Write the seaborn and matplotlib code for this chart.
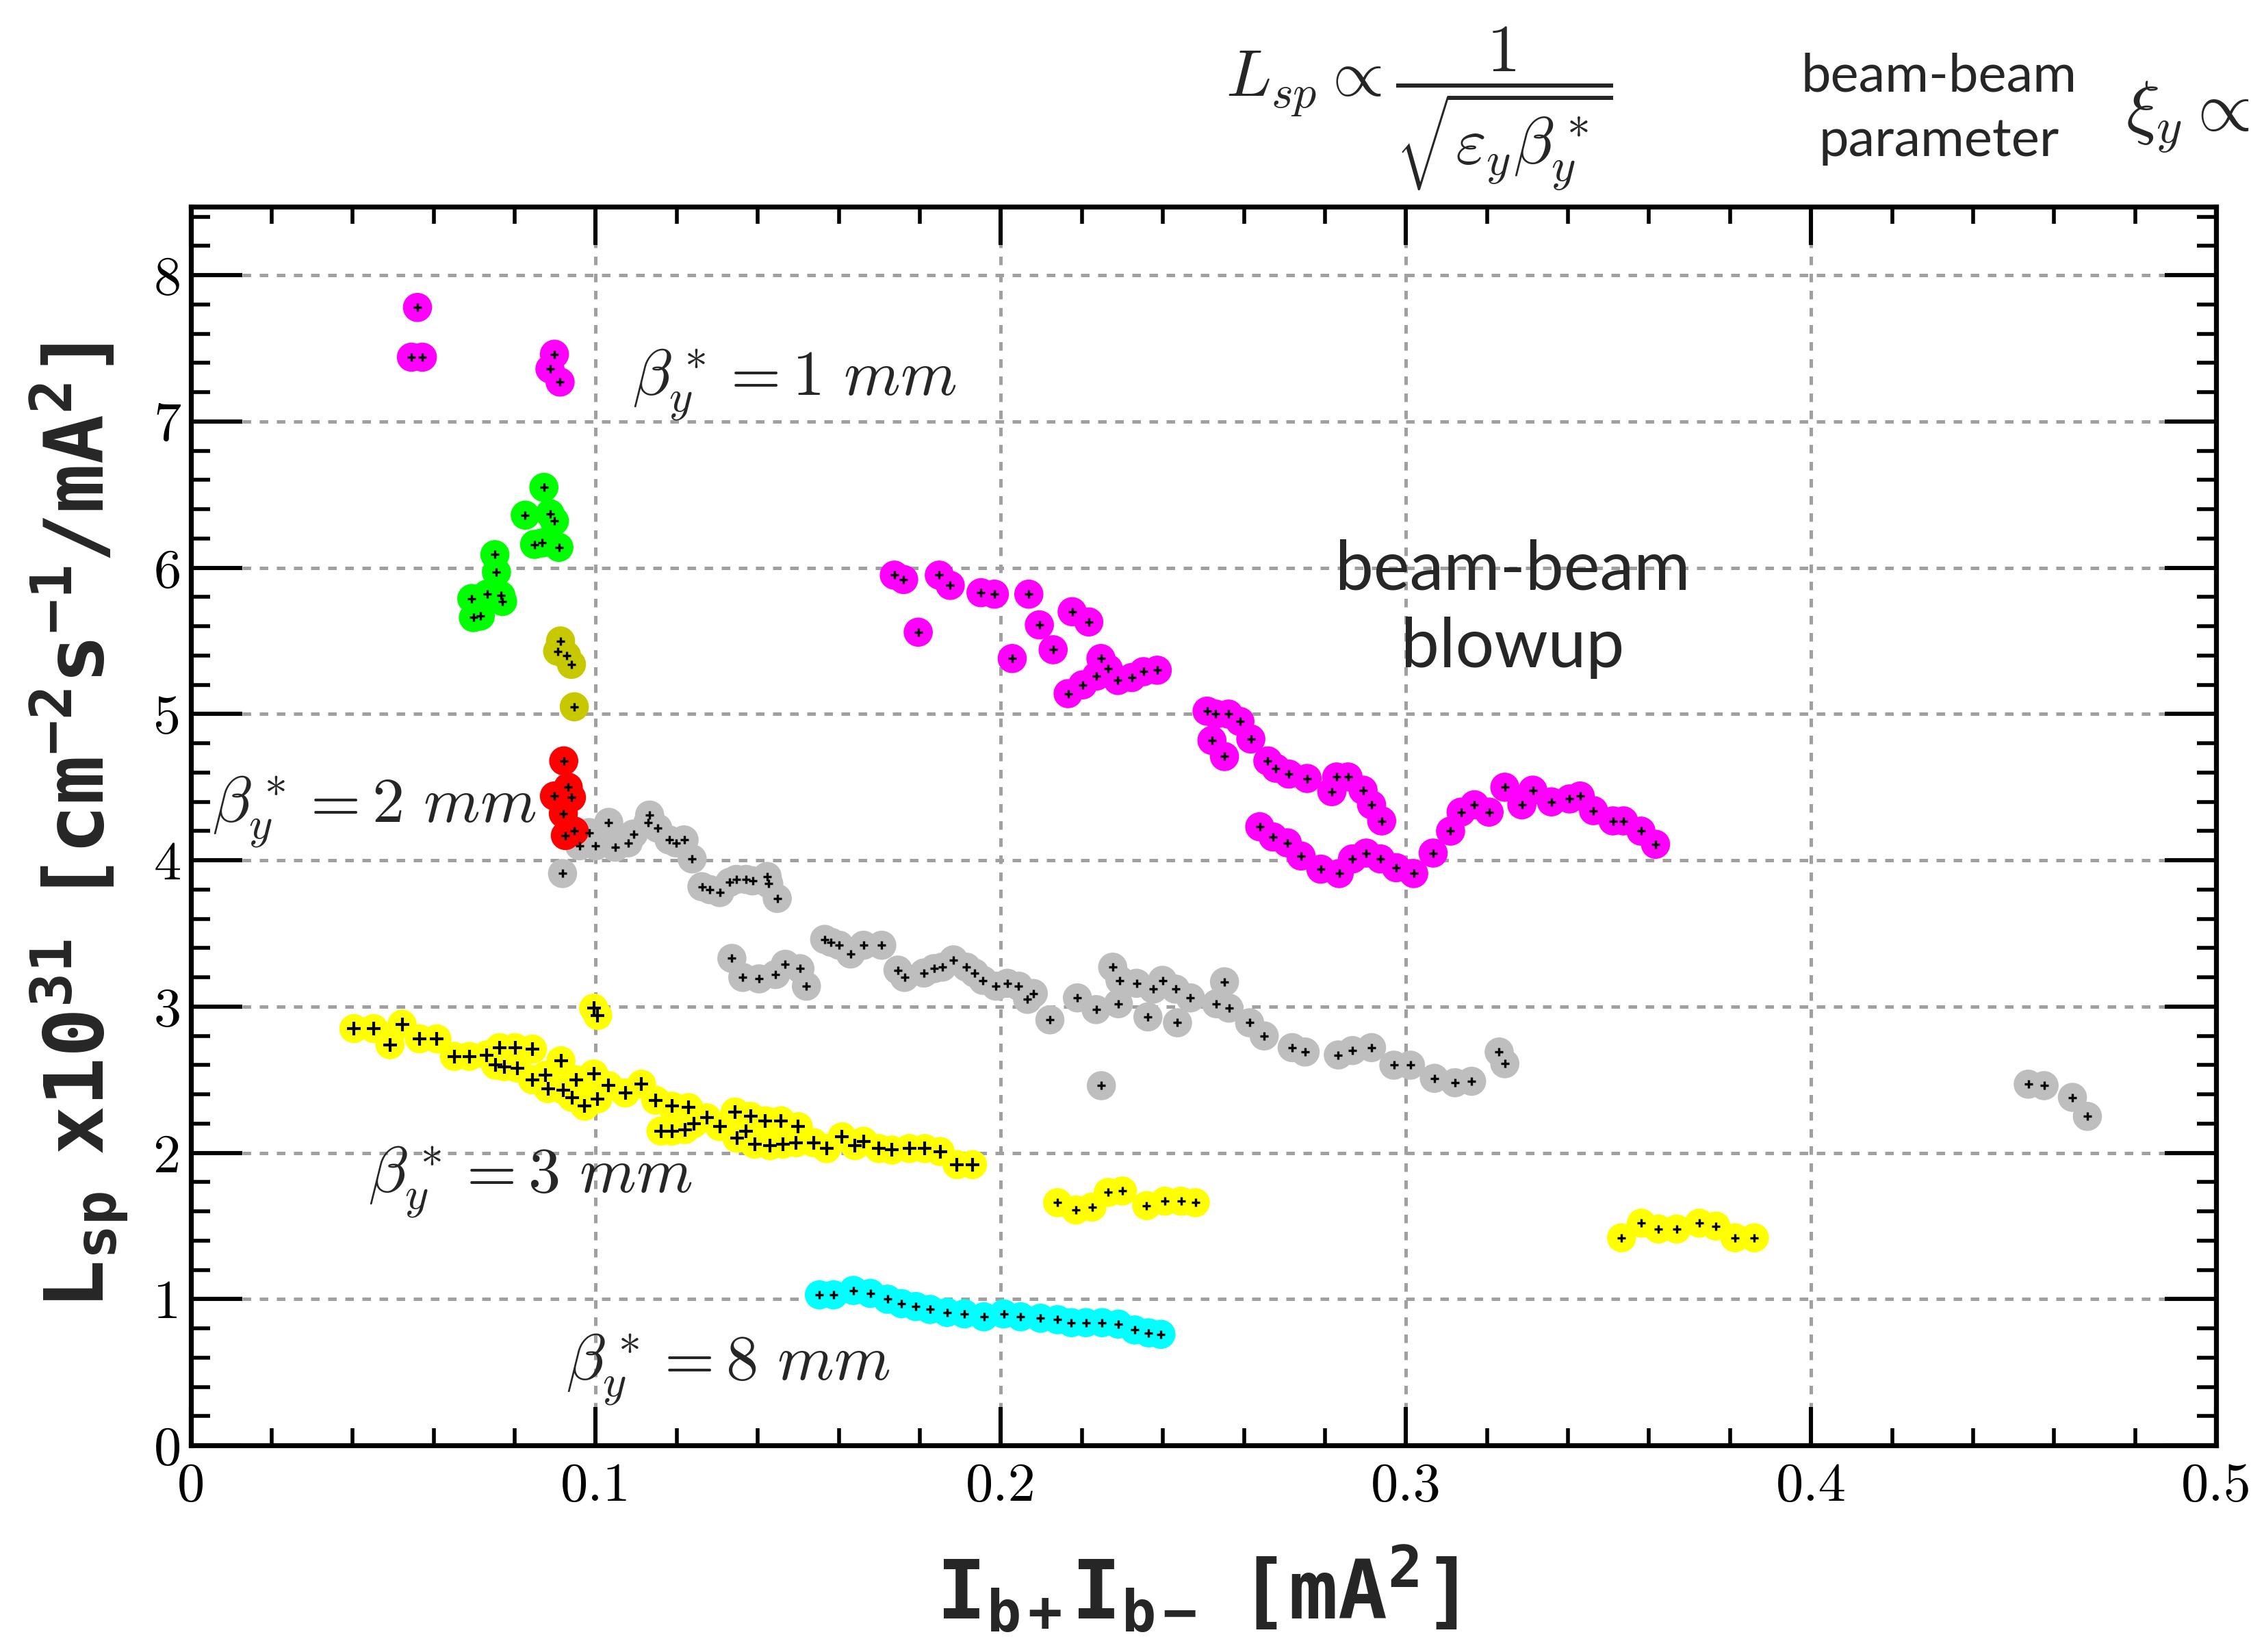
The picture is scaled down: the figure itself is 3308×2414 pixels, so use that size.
import numpy as np
import pandas as pd
import matplotlib
matplotlib.use("Agg")
import matplotlib.pyplot as plt
import seaborn as sns
from matplotlib.ticker import MultipleLocator, FuncFormatter

# ---------------- data ----------------
mag_x = [0.0560, 0.0545, 0.0572, 0.0898, 0.0887, 0.0912,
         0.1737, 0.1760, 0.1848, 0.1875, 0.1796, 0.1951, 0.1984, 0.2069, 0.2028, 0.2095, 0.2129, 0.2176, 0.2217,
         0.2166, 0.2202, 0.2236, 0.2247, 0.2265, 0.2289, 0.2323, 0.2352, 0.2386,
         0.2509, 0.2530, 0.2562, 0.2590, 0.2617, 0.2521, 0.2552,
         0.2659, 0.2679, 0.2711, 0.2756, 0.2817, 0.2829, 0.2857, 0.2894, 0.2915, 0.2940,
         0.2639, 0.2672, 0.2707, 0.2741, 0.2790, 0.2835, 0.2868, 0.2902, 0.2937, 0.2976,
         0.3019, 0.3067, 0.3110, 0.3136, 0.3169, 0.3205, 0.3244, 0.3286, 0.3313, 0.3359,
         0.3404, 0.3430, 0.3463, 0.3511, 0.3537, 0.3580, 0.3616]
mag_y = [7.78, 7.44, 7.44, 7.46, 7.36, 7.27,
         5.95, 5.92, 5.95, 5.88, 5.56, 5.83, 5.82, 5.82, 5.38, 5.61, 5.44, 5.70, 5.63,
         5.14, 5.20, 5.26, 5.38, 5.31, 5.23, 5.25, 5.29, 5.30,
         5.02, 5.00, 5.00, 4.95, 4.83, 4.82, 4.71,
         4.68, 4.63, 4.59, 4.56, 4.47, 4.57, 4.57, 4.48, 4.38, 4.27,
         4.23, 4.16, 4.12, 4.03, 3.94, 3.91, 4.01, 4.05, 4.01, 3.95,
         3.91, 4.05, 4.20, 4.33, 4.38, 4.33, 4.50, 4.38, 4.48, 4.40,
         4.42, 4.44, 4.34, 4.27, 4.27, 4.20, 4.11]

green_x = [0.0872, 0.0826, 0.0887, 0.0898, 0.0849, 0.0868, 0.0909, 0.0751,
           0.0755, 0.0732, 0.0766, 0.0770, 0.0694, 0.0698, 0.0715]
green_y = [6.55, 6.36, 6.37, 6.32, 6.16, 6.17, 6.14, 6.09,
           5.97, 5.82, 5.81, 5.77, 5.79, 5.66, 5.67]

olive_x = [0.0913, 0.0906, 0.0928, 0.0940, 0.0947]
olive_y = [5.50, 5.43, 5.40, 5.34, 5.05]

red_x = [0.0921, 0.0898, 0.0932, 0.0940, 0.0920, 0.0947, 0.0925]
red_y = [4.68, 4.44, 4.50, 4.43, 4.32, 4.20, 4.17]

gray_x = [0.0918, 0.0984, 0.0960, 0.1000, 0.1032, 0.1048, 0.1080, 0.1093, 0.1133, 0.1129,
          0.1153, 0.1181, 0.1198, 0.1218, 0.1238,
          0.1262, 0.1282, 0.1306, 0.1331, 0.1347, 0.1371, 0.1387, 0.1423, 0.1427, 0.1448,
          0.1336, 0.1363, 0.1403, 0.1444, 0.1468, 0.1504, 0.1520,
          0.1565, 0.1581, 0.1601, 0.1629, 0.1661, 0.1706,
          0.1746, 0.1762, 0.1810, 0.1835, 0.1855, 0.1883, 0.1915, 0.1935, 0.1956, 0.1988, 0.2016, 0.2044,
          0.2080, 0.2066, 0.2121, 0.2189, 0.2235, 0.2276, 0.2294, 0.2335, 0.2290, 0.2376,
          0.2399, 0.2431, 0.2468, 0.2363, 0.2436, 0.2532, 0.2552, 0.2563, 0.2614, 0.2650,
          0.2719, 0.2751, 0.2833, 0.2868, 0.2915, 0.2970, 0.3011, 0.3070, 0.3121, 0.3162,
          0.3230, 0.3244, 0.2248,
          0.4536, 0.4575, 0.4645, 0.4682]
gray_y = [3.91, 4.19, 4.10, 4.10, 4.26, 4.09, 4.12, 4.18, 4.31, 4.26,
          4.22, 4.14, 4.12, 4.14, 4.01,
          3.82, 3.80, 3.78, 3.85, 3.87, 3.87, 3.86, 3.89, 3.84, 3.74,
          3.33, 3.20, 3.19, 3.22, 3.29, 3.26, 3.14,
          3.46, 3.44, 3.42, 3.36, 3.42, 3.42,
          3.25, 3.20, 3.23, 3.26, 3.27, 3.32, 3.27, 3.23, 3.18, 3.14, 3.16, 3.14,
          3.09, 3.05, 2.91, 3.06, 2.98, 3.27, 3.18, 3.16, 3.02, 3.12,
          3.18, 3.12, 3.06, 2.93, 2.89, 3.02, 3.17, 2.99, 2.89, 2.80,
          2.72, 2.69, 2.67, 2.70, 2.72, 2.60, 2.60, 2.51, 2.48, 2.49,
          2.69, 2.61, 2.46,
          2.47, 2.46, 2.38, 2.25]

yel_x = [0.0403, 0.0452, 0.0522, 0.0492, 0.0565, 0.0608,
         0.0651, 0.0688, 0.0731, 0.0763, 0.0801, 0.0844, 0.0753, 0.0774, 0.0806,
         0.0844, 0.0876, 0.0914, 0.0882, 0.0920, 0.0952, 0.0995, 0.0941, 0.0973, 0.1005,
         0.1032, 0.1073, 0.1113, 0.1148, 0.1188, 0.1229,
         0.1161, 0.1188, 0.1220, 0.1242, 0.1274, 0.1306, 0.1344, 0.1382, 0.1419, 0.1457, 0.1500, 0.1371, 0.1349,
         0.1392, 0.1430, 0.1462, 0.1495, 0.1538, 0.1570, 0.1608, 0.1640, 0.1661,
         0.1699, 0.1731, 0.1774, 0.1812, 0.1850, 0.1892, 0.1930,
         0.0995, 0.1005]
yel_y = [2.85, 2.85, 2.88, 2.74, 2.78, 2.78,
         2.66, 2.66, 2.67, 2.72, 2.72, 2.71, 2.60, 2.59, 2.58,
         2.50, 2.53, 2.63, 2.44, 2.43, 2.50, 2.54, 2.38, 2.32, 2.37,
         2.46, 2.41, 2.47, 2.36, 2.32, 2.31,
         2.15, 2.15, 2.16, 2.20, 2.24, 2.18, 2.28, 2.25, 2.22, 2.22, 2.18, 2.15, 2.10,
         2.06, 2.05, 2.06, 2.07, 2.07, 2.03, 2.11, 2.05, 2.08,
         2.03, 2.02, 2.03, 2.03, 2.01, 1.92, 1.92,
         2.99, 2.94]

yel_mid_x = [0.2140, 0.2185, 0.2225, 0.2265, 0.2300, 0.2360, 0.2405, 0.2445, 0.2480]
yel_mid_y = [1.66, 1.61, 1.63, 1.73, 1.74, 1.64, 1.67, 1.67, 1.66]

yel_right_x = [0.3532, 0.3581, 0.3623, 0.3668, 0.3724, 0.3765, 0.3812, 0.3860]
yel_right_y = [1.42, 1.52, 1.48, 1.48, 1.52, 1.50, 1.42, 1.42]

cyan_x = [0.1552, 0.1587, 0.1636, 0.1678, 0.1720, 0.1755, 0.1790, 0.1825, 0.1867, 0.1910, 0.1958,
          0.2007, 0.2049, 0.2098, 0.2140, 0.2174, 0.2210, 0.2250, 0.2290, 0.2330, 0.2365, 0.2395]
cyan_y = [1.03, 1.03, 1.06, 1.04, 1.00, 0.97, 0.95, 0.93, 0.91, 0.90, 0.88,
          0.90, 0.88, 0.87, 0.86, 0.84, 0.84, 0.84, 0.83, 0.79, 0.77, 0.76]

x_ticks = [0, 0.1, 0.2, 0.3, 0.4, 0.5]
y_ticks = [0, 1, 2, 3, 4, 5, 6, 7, 8]

series_colors = {"gray": "#bebebe", "magenta": "#ff00ff", "green": "#00ff00",
                 "olive": "#c8c800", "red": "#ff0000", "yellow": "#ffff00", "cyan": "#00ffff"}

parts = [("gray", gray_x, gray_y), ("magenta", mag_x, mag_y), ("green", green_x, green_y),
         ("olive", olive_x, olive_y), ("red", red_x, red_y), ("yellow", yel_x, yel_y),
         ("yellow", yel_mid_x, yel_mid_y), ("yellow", yel_right_x, yel_right_y),
         ("cyan", cyan_x, cyan_y)]
df = pd.concat([pd.DataFrame({"x": xs, "y": ys, "series": n}) for n, xs, ys in parts],
               ignore_index=True)
df["big"] = False
df.loc[df["series"] == "yellow", "big"] = True
df.loc[(df["series"] == "yellow") & (df["y"] < 1.8), "big"] = False

# ---------------- style ----------------
sns.set_style("ticks")
plt.rcParams["font.family"] = ["DejaVu Sans"]
plt.rcParams["mathtext.fontset"] = "custom"
for k in ["rm", "it", "bf", "sf", "tt", "cal"]:
    plt.rcParams["mathtext." + k] = "DejaVu Sans Mono:bold"

fig = plt.figure(figsize=(16.54, 12.07), dpi=200)
ax = fig.add_axes([0.0842, 0.125, 0.8947, 0.750])

sns.scatterplot(data=df, x="x", y="y", hue="series", palette=series_colors, s=235,
                linewidth=0, legend=False, ax=ax, zorder=3)
sns.scatterplot(data=df[~df["big"]], x="x", y="y", color="black", marker="+", s=16,
                linewidth=1.2, legend=False, ax=ax, zorder=4)
sns.scatterplot(data=df[df["big"]], x="x", y="y", color="black", marker="+", s=55,
                linewidth=1.5, legend=False, ax=ax, zorder=4)

ax.set_xlim(0, 0.5)
ax.set_ylim(0, 8.47)
ax.set_xticks(x_ticks)
ax.set_yticks(y_ticks)
ax.xaxis.set_minor_locator(MultipleLocator(0.02))
ax.yaxis.set_minor_locator(MultipleLocator(0.2))
ax.xaxis.set_major_formatter(FuncFormatter(lambda v, p: "0" if abs(v) < 1e-9 else f"{v:g}"))
ax.yaxis.set_major_formatter(FuncFormatter(lambda v, p: f"{v:g}"))
ax.tick_params(which="both", direction="in", top=True, right=True, colors="black")
ax.tick_params(axis="y", which="major", length=27, width=2.2, pad=5)
ax.tick_params(axis="y", which="minor", length=10, width=2.0)
ax.tick_params(axis="x", which="major", length=20, width=2.2, pad=9)
ax.tick_params(axis="x", which="minor", length=9, width=2.0)
for lab in ax.get_xticklabels() + ax.get_yticklabels():
    lab.set_fontfamily("cmr10")
    lab.set_fontsize(29)
for sp in ax.spines.values():
    sp.set_linewidth(2.6)
    sp.set_color("black")
ax.grid(True, which="major", color="#a0a0a0", linestyle=(0, (2.5, 2.5)), linewidth=1.8, zorder=0)
ax.set_axisbelow(True)

ax.set_xlabel(r"$\mathrm{I_{b+}I_{b-}\ \ [mA^{2}]}$", fontsize=43, math_fontfamily="custom")
ax.set_ylabel(r"$\mathrm{L_{sp}\ \ x10^{31}\ \ [cm^{-2}s^{-1}/mA^{2}]}$", fontsize=43,
              math_fontfamily="custom")
ax.xaxis.set_label_coords(0.497, -0.080)
ax.yaxis.set_label_coords(-0.030, 0.5)

# annotations inside the axes
ann = dict(fontsize=34, ha="left", va="center", math_fontfamily="cm", zorder=6)
ax.text(0.109, 7.25, r"$\beta_y^* = 1\ mm$", **ann)
ax.text(0.0053, 4.33, r"$\beta_y^* = 2\ mm$", **ann)
ax.text(0.0438, 1.80, r"$\beta_y^* = 3\ mm$", **ann)
ax.text(0.0927, 0.52, r"$\beta_y^* = 8\ mm$", **ann)
ax.text(0.3264, 5.72, "beam-beam\nblowup", fontsize=36, family=["Lato", "DejaVu Sans"],
        ha="center", va="center", linespacing=1.3, zorder=6)

# top annotations
fig.text(0.627, 0.934, r"$L_{sp} \propto \dfrac{1}{\sqrt{\varepsilon_y \beta_y^*}}$",
         fontsize=35, ha="center", va="center", math_fontfamily="cm")
fig.text(0.8565, 0.934, "beam-beam\nparameter", fontsize=28, family=["Lato", "DejaVu Sans"],
         ha="center", va="center", linespacing=1.4)
fig.text(0.939, 0.929, r"$\xi_y \propto$", fontsize=37, ha="left", va="center",
         math_fontfamily="cm")

fig.savefig("out.png", dpi=200)
